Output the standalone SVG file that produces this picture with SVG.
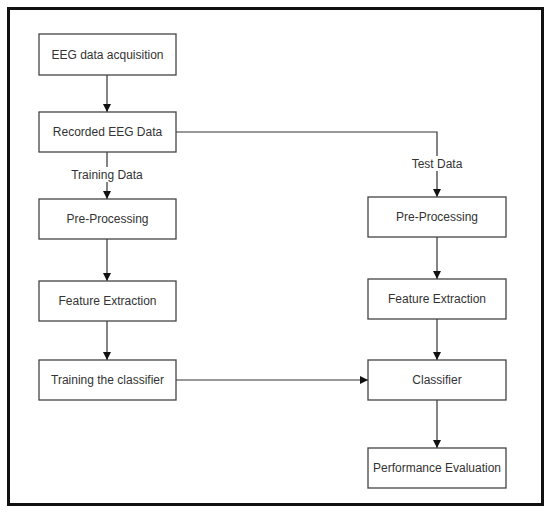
<svg xmlns="http://www.w3.org/2000/svg" width="550" height="513" viewBox="0 0 550 513">
<defs>
<marker id="ah" viewBox="0 0 8 8" refX="8" refY="4" markerWidth="8" markerHeight="8" markerUnits="userSpaceOnUse" orient="auto">
<path d="M0,0 L8,4 L0,8 Z" fill="#111"/>
</marker>
<style>
.box{fill:#fff;stroke:#444;stroke-width:1.3}
.t{font-family:"Liberation Sans",Arial,sans-serif;font-size:12px;fill:#333;text-anchor:middle;dominant-baseline:central}
.c{fill:none;stroke:#333;stroke-width:1.2}
</style>
</defs>
<rect width="550" height="513" fill="#fff"/>
<rect x="8.5" y="8.5" width="534" height="496" fill="none" stroke="#111" stroke-width="3"/>
<g id="connectors">
<line class="c" x1="107" y1="75" x2="107" y2="112" marker-end="url(#ah)"/>
<line class="c" x1="107" y1="152" x2="107" y2="199" marker-end="url(#ah)"/>
<line class="c" x1="107" y1="239" x2="107" y2="281" marker-end="url(#ah)"/>
<line class="c" x1="107" y1="321" x2="107" y2="360" marker-end="url(#ah)"/>
<polyline class="c" points="176,132 437,132 437,197" marker-end="url(#ah)"/>
<line class="c" x1="437" y1="237" x2="437" y2="279" marker-end="url(#ah)"/>
<line class="c" x1="437" y1="319" x2="437" y2="360" marker-end="url(#ah)"/>
<line class="c" x1="176" y1="380" x2="368" y2="380" marker-end="url(#ah)"/>
<line class="c" x1="437" y1="400" x2="437" y2="448" marker-end="url(#ah)"/>
<rect x="70" y="167" width="74" height="15" fill="#fff"/>
<text class="t" x="107" y="175">Training Data</text>
<rect x="410" y="156" width="54" height="15" fill="#fff"/>
<text class="t" x="437" y="164">Test Data</text>
</g>
<g id="n1"><rect class="box" x="39" y="34" width="137" height="41"/><text class="t" x="107.5" y="54.5">EEG data acquisition</text></g>
<g id="n2"><rect class="box" x="39" y="112" width="137" height="40"/><text class="t" x="107.5" y="132">Recorded EEG Data</text></g>
<g id="n3"><rect class="box" x="39" y="199" width="137" height="40"/><text class="t" x="107.5" y="219">Pre-Processing</text></g>
<g id="n4"><rect class="box" x="39" y="281" width="137" height="40"/><text class="t" x="107.5" y="301">Feature Extraction</text></g>
<g id="n5"><rect class="box" x="39" y="360" width="137" height="40"/><text class="t" x="107.5" y="380">Training the classifier</text></g>
<g id="n6"><rect class="box" x="368" y="197" width="138" height="40"/><text class="t" x="437" y="217">Pre-Processing</text></g>
<g id="n7"><rect class="box" x="368" y="279" width="138" height="40"/><text class="t" x="437" y="299">Feature Extraction</text></g>
<g id="n8"><rect class="box" x="368" y="360" width="138" height="40"/><text class="t" x="437" y="380">Classifier</text></g>
<g id="n9"><rect class="box" x="368" y="448" width="138" height="40"/><text class="t" x="437" y="468">Performance Evaluation</text></g>
</svg>
